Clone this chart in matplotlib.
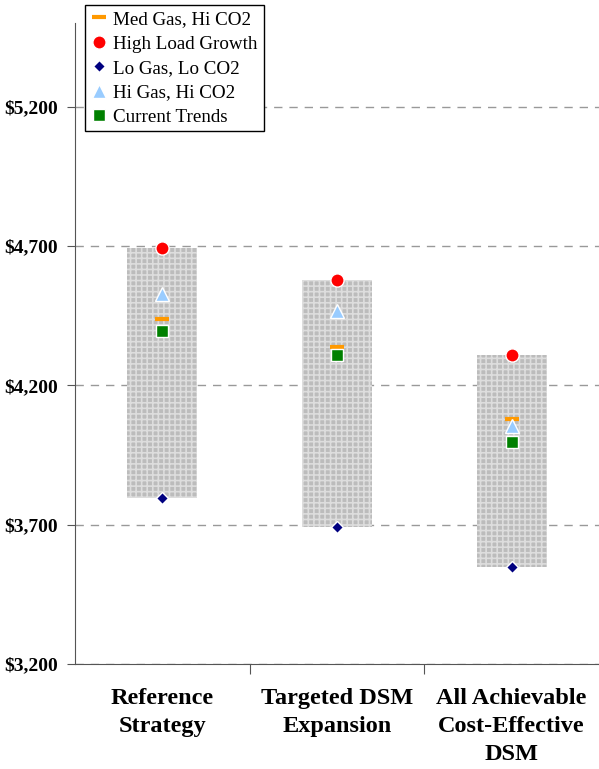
import matplotlib.pyplot as plt
import numpy as np

plt.rcParams['font.family'] = ['Liberation Serif', 'DejaVu Serif']
plt.rcParams['hatch.linewidth'] = 1.2

# strategies on the x axis
categories = ['Reference\nStrategy', 'Targeted DSM\nExpansion', 'All Achievable\nCost-Effective\nDSM']

# scenario results ($ millions)
med_gas_hi_co2 = [4438, 4338, 4078]
high_load = [4693, 4578, 4308]
lo_gas_lo_co2 = [3797, 3693, 3549]
hi_gas_hi_co2 = [4528, 4467, 4053]
current_trends = [4395, 4310, 3995]

yticks = [3200, 3700, 4200, 4700, 5200]

x = np.arange(len(categories))

fig = plt.figure(figsize=(5.99, 7.69), dpi=100)
ax = fig.add_axes([0.1252, 0.1365, 0.8748, 0.8335])

# range bar from low to high scenario
lo = np.array(lo_gas_lo_co2)
hi = np.array(high_load)
ax.bar(x, hi - lo, bottom=lo, width=0.4, facecolor='#bcbcbc',
       edgecolor='#dddddd', hatch='+++', linewidth=0, zorder=2)

ax.plot(x, med_gas_hi_co2, ls='none', marker='_', color='#ff9900', ms=10, mew=3,
        label='Med Gas, Hi CO2', zorder=4)
ax.plot(x, high_load, ls='none', marker='o', color='#ff0000', mec='white', mew=1,
        ms=9.5, label='High Load Growth', zorder=4)
ax.plot(x, lo_gas_lo_co2, ls='none', marker='D', color='#000080', mec='white', mew=1,
        ms=6.5, label='Lo Gas, Lo CO2', zorder=4)
ax.plot(x, hi_gas_hi_co2, ls='none', marker='^', color='#99ccff', mec='white', mew=1,
        ms=10, label='Hi Gas, Hi CO2', zorder=4)
ax.plot(x, current_trends, ls='none', marker='s', color='#008000', mec='white', mew=1,
        ms=9, label='Current Trends', zorder=4)

ax.set_xlim(-0.5, 2.5)
ax.set_ylim(3200, 5500)
ax.set_yticks(yticks)
ax.set_yticklabels(['$' + format(v, ',') for v in yticks], fontsize=14, fontweight='bold')
ax.yaxis.grid(True, ls=(0, (6, 5)), color='#999999', lw=1, zorder=0)

ax.set_xticks([0.5, 1.5])
ax.set_xticklabels([])
ax.set_xticks(x, minor=True)
ax.set_xticklabels(categories, minor=True, fontsize=17.5, fontweight='bold', linespacing=1.45)
ax.tick_params(axis='x', which='minor', length=0, pad=17)
ax.tick_params(axis='x', which='major', length=7, direction='out', color='#555555')
ax.tick_params(axis='y', length=6, direction='out', color='#555555', pad=6)

ax.spines['top'].set_visible(False)
ax.spines['right'].set_visible(False)
ax.spines['left'].set_color('#555555')
ax.spines['bottom'].set_color('#555555')

leg = ax.legend(loc='upper left', bbox_to_anchor=(0.019, 1.028), fontsize=13.7,
                frameon=True, fancybox=False, edgecolor='black', framealpha=1,
                handlelength=0.85, handletextpad=0.35, borderpad=0.3, labelspacing=0.37,
                borderaxespad=0, numpoints=1, markerscale=1.0)
leg.get_frame().set_linewidth(1)

fig.savefig('out.png', dpi=100)
